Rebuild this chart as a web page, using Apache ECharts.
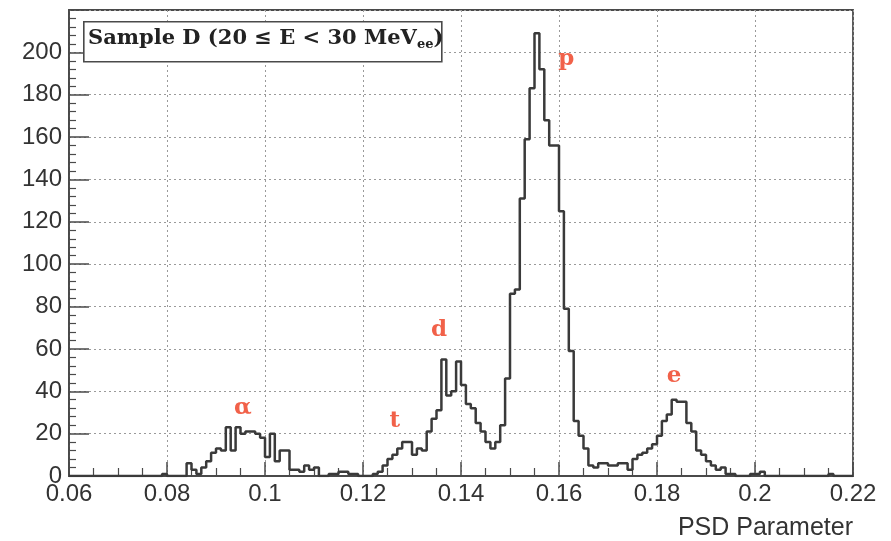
<!DOCTYPE html>
<html lang="en">

<head>
    <meta charset="UTF-8">
    <title>PSD histogram</title>
    <script type="text/javascript" src="https://cdn.jsdelivr.net/npm/echarts@6/dist/echarts.min.js"></script>
    <style>
        html, body { margin: 0; padding: 0; background: #fff; }
    </style>
</head>

<body>
    <div id="main" style="width: 891px;height:541px;"></div>
    <script type="text/javascript">
    let myChart = echarts.init(document.getElementById('main'));

    // histogram binning
    let binStart = 0.06;
    let binWidth = 0.001;

    // counts per bin, 160 bins from 0.06 to 0.22
    let counts = [
        0, 0, 0, 0, 0, 0, 0, 0, 0, 0,         // 0.060
        0, 0, 0, 0, 0, 0, 0, 0, 0, 1,         // 0.070
        0, 0, 0, 0, 6, 3, 1, 4, 7, 11,        // 0.080
        13, 12, 23, 12, 23, 20, 21, 21, 20, 18, // 0.090
        9, 20, 7, 12, 12, 3, 3, 2, 5, 3,      // 0.100
        4, 0, 0, 1, 1, 2, 2, 1, 1, 0,         // 0.110
        0, 0, 1, 2, 5, 8, 10, 13, 16, 16,     // 0.120
        10, 13, 12, 21, 27, 31, 55, 38, 40, 54, // 0.130
        43, 34, 32, 25, 21, 16, 13, 16, 24, 46, // 0.140
        86, 88, 131, 159, 183, 209, 192, 168, 156, 156, // 0.150
        125, 79, 59, 26, 19, 13, 5, 4, 6, 6,  // 0.160
        5, 5, 6, 6, 3, 8, 10, 11, 13, 15,     // 0.170
        19, 26, 29, 36, 35, 35, 25, 21, 12, 10, // 0.180
        7, 5, 3, 4, 1, 1, 0, 0, 0, 1,         // 0.190
        1, 2, 0, 0, 0, 0, 0, 0, 0, 0,         // 0.200
        0, 0, 0, 0, 0, 1, 0, 0, 0, 0          // 0.210
    ];

    // peak labels
    let peakNames = ['α', 't', 'd', 'p', 'e'];
    let peakX = [0.0955, 0.1265, 0.1355, 0.1615, 0.1835];
    let peakY = [32, 26, 69, 197, 47];

    // step points at bin left edges, plus closing edge
    let stepData = [];
    for (let i = 0; i < counts.length; i++) {
        stepData.push([+(binStart + i * binWidth).toFixed(4), counts[i]]);
    }
    stepData.push([+(binStart + counts.length * binWidth).toFixed(4), counts[counts.length - 1]]);

    let labelData = [];
    for (let i = 0; i < peakNames.length; i++) {
        labelData.push({ value: [peakX[i], peakY[i]], name: peakNames[i] });
    }

    let axisColor = '#4a4a4a';
    let textColor = '#333';

    option = {
        animation: false,
        grid: {
            left: 69,
            right: 38,
            top: 10,
            bottom: 65,
            show: true,
            borderColor: axisColor,
            borderWidth: 1.8,
            containLabel: false
        },
        xAxis: {
            type: 'value',
            min: 0.06,
            max: 0.22,
            interval: 0.02,
            axisLine: { show: true, onZero: false, lineStyle: { color: axisColor, width: 1.8 } },
            axisTick: { show: true, inside: true, length: 14, lineStyle: { color: axisColor, width: 1.5 } },
            minorTick: { show: true, splitNumber: 4, length: 8, lineStyle: { color: axisColor, width: 1.2 } },
            axisLabel: {
                color: textColor,
                fontFamily: 'Liberation Sans',
                fontSize: 24,
                margin: 6,
                formatter: function (v) { return +v.toFixed(2) + ''; }
            },
            splitLine: { show: true, lineStyle: { color: '#9a9a9a', type: [2, 3], width: 1 } }
        },
        yAxis: {
            type: 'value',
            min: 0,
            max: 220,
            interval: 20,
            axisLine: { show: true, lineStyle: { color: axisColor, width: 1.8 } },
            axisTick: { show: true, inside: true, length: 20, lineStyle: { color: axisColor, width: 1.5 } },
            minorTick: { show: true, splitNumber: 5, length: 7, lineStyle: { color: axisColor, width: 1.2 } },
            axisLabel: {
                color: textColor,
                fontFamily: 'Liberation Sans',
                fontSize: 24,
                margin: 7,
                formatter: function (v) { return v >= 220 ? '' : v + ''; }
            },
            splitLine: { show: true, lineStyle: { color: '#9a9a9a', type: [2, 3], width: 1 } }
        },
        series: [{
            name: 'counts',
            type: 'line',
            step: 'end',
            data: stepData,
            symbol: 'none',
            lineStyle: { color: '#3a3a3a', width: 2.5 },
            z: 3
        }, {
            name: 'peaks',
            type: 'scatter',
            data: labelData,
            symbolSize: 0,
            label: {
                show: true,
                position: 'inside',
                formatter: '{b}',
                color: '#ee3a1c',
                fontFamily: 'DejaVu Serif',
                fontWeight: 'bold',
                fontSize: 23
            },
            z: 4
        }],
        graphic: [{
            type: 'rect',
            left: 83,
            top: 21,
            shape: { width: 358, height: 40 },
            style: { fill: '#fff', stroke: '#4a4a4a', lineWidth: 1.6 },
            z: 10
        }, {
            type: 'text',
            left: 88,
            top: 28,
            style: {
                rich: {
                    m: { fontFamily: 'DejaVu Serif', fontWeight: 'bold', fontSize: 21, fill: '#222' },
                    s: { fontFamily: 'DejaVu Serif', fontWeight: 'bold', fontSize: 13, fill: '#222', padding: [12, 0, 0, 0] }
                },
                text: '{m|Sample D (20 ≤ E < 30 MeV}{s|ee}{m|)}'
            },
            z: 11
        }, {
            type: 'text',
            right: 38,
            top: 516,
            style: {
                text: 'PSD Parameter',
                fontFamily: 'Liberation Sans',
                fontSize: 25,
                fill: textColor
            }
        }]
    };

    myChart.setOption(option);
    </script>
</body>

</html>
